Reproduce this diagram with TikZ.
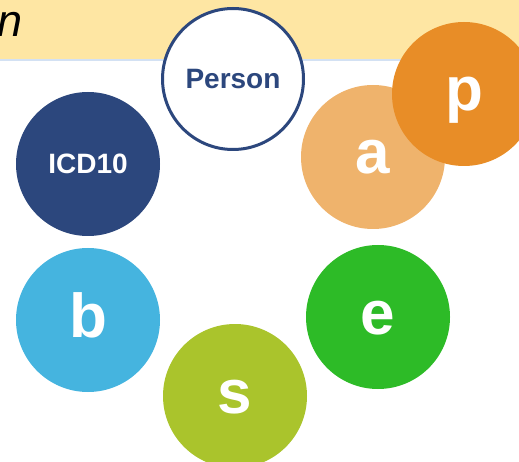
\documentclass[tikz,border=0pt]{standalone}
\usepackage{fontspec}
\setmainfont{Liberation Sans}
\usepackage{tikz}
\usetikzlibrary{shapes,backgrounds}

\definecolor{bandyellow}{HTML}{FEE6A3}
\definecolor{bandline}{HTML}{D3E1F3}
\definecolor{navy}{HTML}{2C477D}
\definecolor{peach}{HTML}{EFB36C}
\definecolor{pumpkin}{HTML}{E88D27}
\definecolor{sky}{HTML}{45B4DF}
\definecolor{leaf}{HTML}{2DBB27}
\definecolor{lime}{HTML}{AAC42C}

\tikzset{
  blob/.style={circle, minimum size=144pt, inner sep=0pt, text=white,
               font=\fontsize{62}{62}\selectfont\bfseries,
               text height=34pt, text depth=0pt},
  wordblob/.style={blob, font=\fontsize{28}{30}\selectfont\bfseries,
               text height=20pt, text depth=0pt}
}

\begin{document}
\begin{tikzpicture}[x=1pt, y=-1pt]
                \useasboundingbox (0,0) rectangle (519,462);
                \fill[bandyellow] (0,0) rectangle (519,59);
                \fill[bandline] (0,59) rectangle (519,61);
                \node[anchor=base east, font=\fontsize{45}{45}\selectfont\itshape] (title) at (26,37) {n};
                \node[wordblob, fill=white, draw=navy, line width=3pt, minimum size=141pt, text=navy] (person) at (233,79) {Person};
                \node[wordblob, fill=navy] (icd) at (88,164) {ICD10};
                \node[blob, fill=sky] (b) at (88,320) {b};
                \node[blob, fill=lime] (s) at (235,396) {s};
                \node[blob, fill=leaf] (e) at (378,317) {e};
                \node[blob, fill=peach] (a) at (373,157) {a};
                \node[blob, fill=pumpkin] (p) at (464,94) {p};
            \end{tikzpicture}
\end{document}
